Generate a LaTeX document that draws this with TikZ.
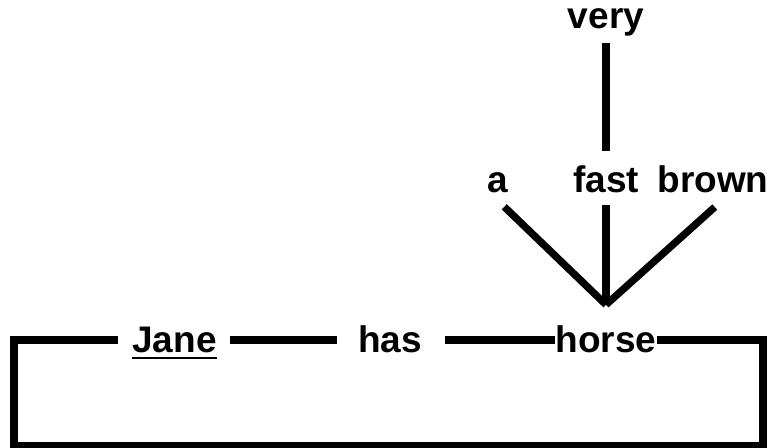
\documentclass[tikz,border=0pt]{standalone}
\usepackage{fontspec}
\setmainfont{Liberation Sans}
\newcommand{\underword}[1]{\setbox0\hbox{#1}\rlap{\rule[-4.5pt]{\wd0}{1.5pt}}#1}
\begin{document}
\begin{tikzpicture}[x=0.75pt,y=0.75pt,
  word/.style={font=\fontsize{27.75pt}{30pt}\selectfont\bfseries,
    inner sep=0pt, text height=20.8pt, text depth=1.4pt, anchor=base},
  link/.style={line width=5.5pt}]
  \useasboundingbox (0,0) rectangle (768,448);
  % Words
  \node[word, text height=15pt] (very) at (606,419) {very};
  \node[word] (a) at (498,255) {a};
  \node[word] (fast) at (606,255) {fast};
  \node[word] (brown) at (713,255) {brown};
  \node[word] (Jane) at (174.5,95) {\underword{Jane}};
  \node[word] (has) at (390,95) {has};
  \node[word] (horse) at (606,95) {horse};
  % Joints
  \coordinate (hub) at ([yshift=15.2pt]horse.north);
  \coordinate (se) at (763,2);
  \coordinate (sw) at (14,2);
  % Modifiers
  \draw[link, shorten <=9pt, shorten >=10.7pt] (very) -- (fast);
  \draw[link, shorten <=17.5pt] (a.-135) -- (hub);
  \draw[link, shorten <=7.5pt] (fast.south) -- (hub);
  \draw[link, shorten <=13.4pt] (brown.-45) -- (hub);
  % Main line
  \draw[link, shorten <=9.75pt, shorten >=15.75pt] (Jane) -- (has);
  \draw[link, shorten <=17.25pt] (has) -- (horse);
  \draw[link, shorten >=10.5pt] (horse.east) -- (horse.east -| se) -- (se)
    -- (sw) -- (sw |- Jane.west) -- (Jane.west);
\end{tikzpicture}
\end{document}
